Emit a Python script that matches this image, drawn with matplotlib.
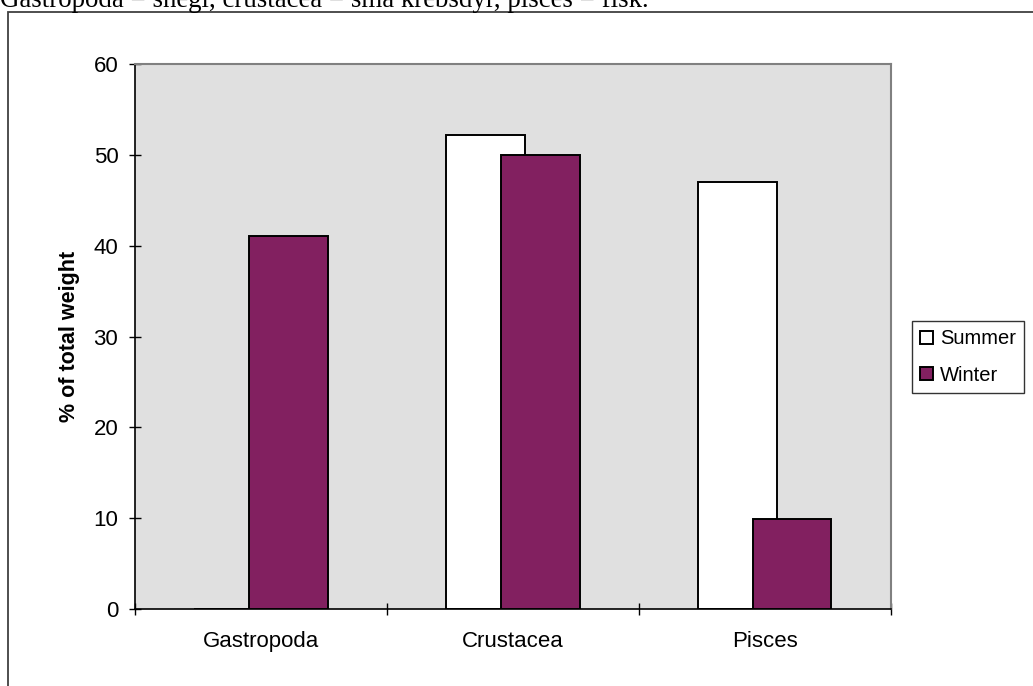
import numpy as np
import matplotlib.pyplot as plt
from matplotlib.patches import Patch, Rectangle

# Data
categories = ["Gastropoda", "Crustacea", "Pisces"]
summer = [0, 52.2, 47]
winter = [41.1, 50, 9.9]
series_names = ["Summer", "Winter"]
note = "Gastropoda = snegl, crustacea = små krebsdyr, pisces = fisk."

summer_color = "white"
winter_color = "#822060"

plt.rcParams['font.family'] = ['Liberation Sans', 'DejaVu Sans']

fig = plt.figure(figsize=(10.33, 6.86), dpi=100)
ax = fig.add_axes([0.1307, 0.1122, 0.8625 - 0.1307, 0.9067 - 0.1122])

x = np.arange(len(categories))
width = 0.31
offset = 0.109

ax.bar(x - offset, summer, width, color=summer_color, edgecolor="black", linewidth=1.4, zorder=2)
ax.bar(x + offset, winter, width, color=winter_color, edgecolor="black", linewidth=1.4, zorder=3)

ax.set_facecolor("#e0e0e0")
ax.set_xlim(-0.5, 2.5)
ax.set_ylim(0, 60)
ax.set_yticks(range(0, 61, 10))

# category labels on major ticks, boundary ticks on minor ticks
ax.set_xticks(x)
ax.set_xticklabels(categories)
ax.set_xticks(np.arange(-0.5, 2.6, 1), minor=True)
ax.tick_params(axis='x', which='major', length=0, pad=16, labelsize=16)
ax.tick_params(axis='x', which='minor', direction='inout', length=8, width=1)
ax.tick_params(axis='y', direction='inout', length=8, width=1, labelsize=16, pad=8)

ax.set_ylabel("% of total weight", fontsize=15.5, fontweight='bold', labelpad=10)

for side in ["left", "bottom"]:
    ax.spines[side].set_color("black")
    ax.spines[side].set_linewidth(1.2)
for side in ["top", "right"]:
    ax.spines[side].set_color("#808080")
    ax.spines[side].set_linewidth(1.5)

handles = [Patch(facecolor=summer_color, edgecolor="black", linewidth=1.4),
           Patch(facecolor=winter_color, edgecolor="black", linewidth=1.4)]
leg = fig.legend(handles, series_names, loc='center left',
                 bbox_to_anchor=(912 / 1033, 1 - 357 / 686),
                 fontsize=14.5, frameon=True, fancybox=False, shadow=False,
                 handlelength=0.65, handleheight=0.65, handletextpad=0.35,
                 labelspacing=0.85, borderpad=0.4, borderaxespad=0)
leg.get_frame().set_edgecolor("black")
leg.get_frame().set_linewidth(1.0)

# outer frame around the chart
fig.patches.append(Rectangle((8 / 1033, -0.05), 1.0, 1 - 12 / 686 + 0.05,
                             transform=fig.transFigure, fill=False,
                             edgecolor="#404040", linewidth=1.3))

# note above the chart, partly cut off at the top edge as in the source
fig.text(0.0, 1 - 7 / 686, note, family=['Liberation Serif', 'DejaVu Serif'],
         fontsize=19.4, va='baseline', ha='left')

fig.savefig("out.png", dpi=100)
